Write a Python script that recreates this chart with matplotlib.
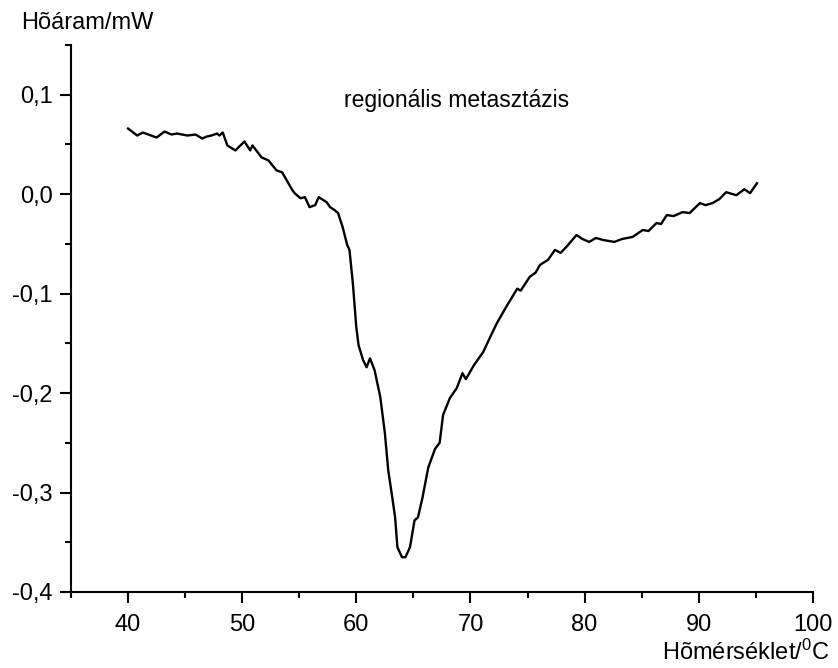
import numpy as np
import matplotlib.pyplot as plt

plt.rcParams['font.family'] = ['Liberation Sans', 'DejaVu Sans']
plt.rcParams['mathtext.fontset'] = 'custom'
plt.rcParams['mathtext.rm'] = 'Liberation Sans'
plt.rcParams['mathtext.it'] = 'Liberation Sans'

# Temperature (C) and heat flow (mW)
temp = [40.0, 40.8, 41.3, 42.5, 43.2, 43.8, 44.3, 45.2, 45.9, 46.5, 46.9, 47.3,
        47.8, 48.0, 48.3, 48.7, 49.4, 50.2, 50.7, 50.9, 51.7, 52.3, 53.0, 53.5,
        54.4, 54.6, 55.1, 55.5, 55.9, 56.4, 56.7, 57.4, 57.7, 58.1, 58.4, 58.8,
        59.2, 59.4, 59.7, 60.0, 60.2, 60.6, 60.9, 61.2, 61.6, 62.1, 62.5, 62.8,
        63.1, 63.4, 63.6, 64.0, 64.3, 64.7, 65.1, 65.4, 65.8, 66.3, 66.9, 67.3,
        67.6, 68.2, 68.8, 69.3, 69.6, 70.3, 71.1, 71.8, 72.3, 72.6, 73.2, 74.1,
        74.4, 75.2, 75.7, 76.1, 76.8, 77.4, 77.9, 78.4, 79.3, 79.8, 80.4, 81.0,
        81.6, 82.6, 83.3, 84.2, 85.1, 85.6, 86.3, 86.7, 87.2, 87.8, 88.6, 89.2,
        90.1, 90.6, 91.2, 91.8, 92.4, 93.3, 94.0, 94.5, 95.1]
flow = [0.066, 0.059, 0.062, 0.057, 0.063, 0.060, 0.061, 0.059, 0.060, 0.056, 0.058, 0.059,
        0.061, 0.059, 0.062, 0.049, 0.044, 0.053, 0.044, 0.049, 0.037, 0.034, 0.024, 0.022,
        0.004, 0.001, -0.004, -0.003, -0.013, -0.011, -0.003, -0.008, -0.013, -0.016, -0.019, -0.033,
        -0.051, -0.056, -0.090, -0.134, -0.152, -0.167, -0.174, -0.165, -0.177, -0.204, -0.240, -0.278,
        -0.301, -0.325, -0.355, -0.365, -0.365, -0.355, -0.328, -0.325, -0.305, -0.275, -0.256, -0.250,
        -0.222, -0.205, -0.195, -0.180, -0.186, -0.172, -0.159, -0.142, -0.130, -0.124, -0.112, -0.095,
        -0.097, -0.083, -0.079, -0.071, -0.066, -0.056, -0.059, -0.053, -0.041, -0.045, -0.048, -0.044,
        -0.046, -0.048, -0.045, -0.043, -0.036, -0.037, -0.029, -0.030, -0.021, -0.022, -0.018, -0.019,
        -0.009, -0.011, -0.009, -0.005, 0.002, -0.001, 0.005, 0.001, 0.011]

fig = plt.figure(figsize=(8.38, 6.68), dpi=100)
ax = fig.add_axes([0.0847, 0.1138, 0.8853, 0.8188])
ax.plot(temp, flow, color='black', lw=1.7)

ax.set_xlim(35, 100)
ax.set_ylim(-0.4, 0.15)
ax.set_xticks([40, 50, 60, 70, 80, 90, 100])
ax.set_xticks(np.arange(35, 101, 5), minor=True)
ax.set_yticks([-0.4, -0.3, -0.2, -0.1, 0.0, 0.1])
ax.set_yticks(np.arange(-0.4, 0.151, 0.05), minor=True)
ax.set_yticklabels(['-0,4', '-0,3', '-0,2', '-0,1', '0,0', '0,1'])

for s in ['top', 'right']:
    ax.spines[s].set_visible(False)
for s in ['left', 'bottom']:
    ax.spines[s].set_linewidth(1.5)
ax.tick_params(which='major', direction='out', length=8, width=1.5, labelsize=17, pad=5)
ax.tick_params(axis='x', which='major', pad=8)
ax.tick_params(which='minor', direction='out', length=4, width=1.5)

ax.text(0.52, 0.899, 'regionális metasztázis', transform=ax.transAxes,
        ha='center', va='center', fontsize=16.5)
fig.text(0.025, 0.966, 'Hõáram/mW', ha='left', va='center', fontsize=17)
fig.text(0.99, 0.024, 'Hõmérséklet/$^0$C', ha='right', va='center', fontsize=17)

plt.savefig('out.png')
